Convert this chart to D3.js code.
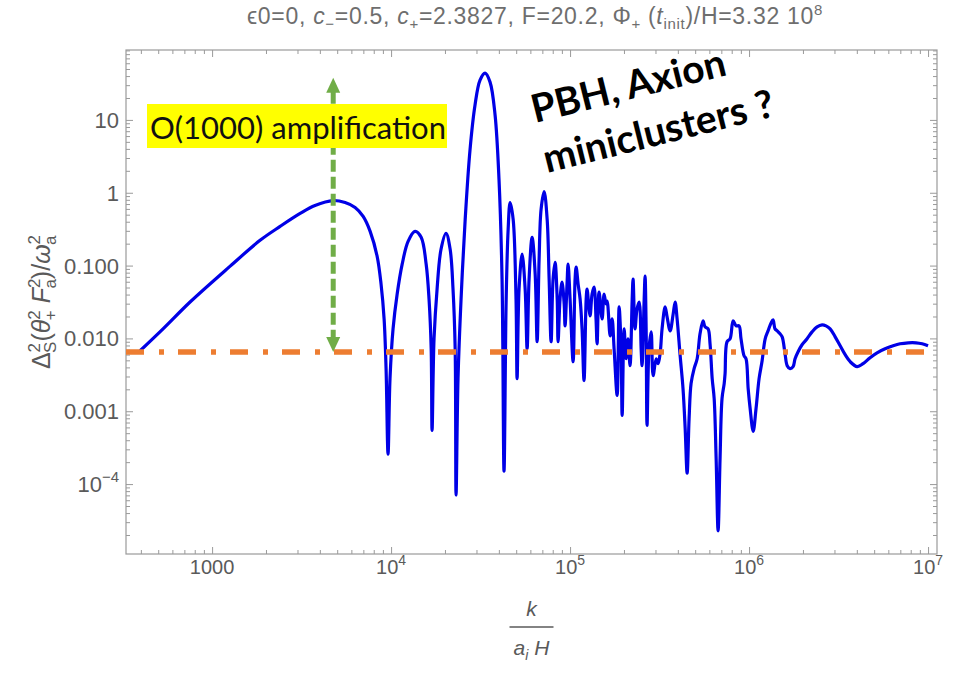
<!DOCTYPE html>
<html>
<head>
<meta charset="utf-8">
<script src="https://cdn.jsdelivr.net/npm/d3@7"></script>
<style>
  body { margin: 0; background: #fff; }
</style>
</head>
<body>
<div id="chart"></div>
<script>
// data: log10 of k/(a_i H) and log10 of the spectrum
const logK = [2.598,2.726,2.877,3.101,3.268,3.380,3.492,3.575,3.676,3.743,3.799,3.844,3.883,3.922,3.944,3.961,3.972,3.983,3.994,4.011,
  4.034,4.062,4.095,4.134,4.168,4.196,4.212,4.224,4.229,4.240,4.257,4.279,4.307,4.330,4.346,4.358,4.363,4.374,4.391,4.414,
  4.441,4.469,4.497,4.525,4.553,4.581,4.603,4.620,4.631,4.643,4.654,4.665,4.682,4.698,4.704,4.715,4.732,4.749,4.760,4.771,
  4.788,4.805,4.816,4.827,4.838,4.855,4.872,4.883,4.894,4.905,4.916,4.928,4.933,4.944,4.955,4.967,4.972,4.983,4.989,5.000,
  5.017,5.028,5.034,5.045,5.056,5.067,5.078,5.090,5.095,5.106,5.112,5.123,5.134,5.145,5.151,5.162,5.179,5.190,5.201,5.207,
  5.224,5.235,5.246,5.263,5.274,5.285,5.291,5.302,5.313,5.324,5.335,5.347,5.352,5.363,5.374,5.386,5.397,5.402,5.414,5.419,
  5.425,5.430,5.441,5.453,5.464,5.481,5.492,5.503,5.514,5.531,5.542,5.559,5.576,5.587,5.598,5.615,5.631,5.643,5.654,5.665,
  5.676,5.693,5.710,5.726,5.743,5.754,5.771,5.782,5.794,5.805,5.816,5.827,5.838,5.849,5.861,5.866,5.877,5.894,5.911,5.928,
  5.944,5.955,5.972,5.983,5.995,6.006,6.023,6.039,6.056,6.073,6.090,6.106,6.123,6.134,6.145,6.157,6.173,6.185,6.201,6.213,
  6.229,6.246,6.257,6.274,6.296,6.324,6.352,6.380,6.408,6.430,6.453,6.481,6.509,6.537,6.565,6.604,6.637,6.676,6.715,6.760,
  6.805,6.844,6.889,6.933,6.967,7.000];
const logS = [-2.169,-1.869,-1.500,-1.008,-0.653,-0.462,-0.284,-0.175,-0.107,-0.134,-0.202,-0.325,-0.530,-0.872,-1.254,-1.732,-2.415,-3.590,-2.552,-1.869,
  -1.391,-0.981,-0.667,-0.530,-0.612,-0.981,-1.459,-2.142,-3.262,-2.005,-1.322,-0.776,-0.557,-0.776,-1.322,-2.142,-4.150,-2.552,-1.459,-0.366,
  0.590,1.205,1.546,1.642,1.519,1.068,0.180,-1.186,-3.822,-1.459,-0.503,-0.134,-0.366,-1.459,-2.552,-1.322,-0.844,-1.322,-2.142,-1.186,
  -0.612,-1.117,-2.046,-0.913,-0.229,0.016,-0.366,-1.186,-2.046,-1.186,-0.954,-1.459,-2.046,-1.459,-1.227,-1.527,-1.828,-1.254,-0.981,-1.459,
  -2.320,-1.186,-1.022,-1.254,-1.459,-1.869,-2.579,-1.459,-1.322,-1.596,-1.691,-1.391,-1.295,-1.732,-2.074,-1.363,-1.732,-1.391,-1.527,-1.486,
  -1.964,-1.732,-2.142,-2.784,-1.568,-2.142,-3.057,-1.869,-2.279,-2.005,-2.374,-1.459,-1.186,-1.869,-1.596,-1.500,-2.142,-2.374,-1.459,-1.145,
  -1.869,-3.194,-2.142,-1.910,-2.511,-2.279,-2.347,-2.210,-1.869,-1.568,-1.705,-1.896,-1.664,-1.500,-1.732,-2.238,-2.688,-3.235,-3.850,-3.098,
  -2.620,-2.415,-2.279,-1.937,-1.760,-1.841,-1.869,-2.074,-2.552,-2.825,-3.645,-4.642,-3.645,-2.825,-2.620,-2.484,-2.046,-2.005,-1.760,-1.828,
  -1.828,-2.005,-2.238,-2.279,-2.688,-2.962,-3.276,-2.962,-2.552,-2.306,-2.005,-1.896,-1.787,-1.746,-1.869,-1.896,-1.937,-1.978,-2.210,-2.374,
  -2.415,-2.388,-2.279,-2.183,-2.087,-2.005,-1.910,-1.841,-1.814,-1.828,-1.869,-1.978,-2.101,-2.224,-2.320,-2.388,-2.347,-2.265,-2.197,-2.142,
  -2.101,-2.074,-2.060,-2.060,-2.074,-2.101];

// reference level (orange dash-dot) and the amplification arrow
const floorLevel = 0.0065;
const arrowK = 4750;
const arrowTop = 38;

// ticks
const xTicks = [1e3, 1e4, 1e5, 1e6, 1e7];
const yTicks = [10, 1, 0.1, 0.01, 0.001, 1e-4];
const yTickText = {10: '10', 1: '1', 0.1: '0.100', 0.01: '0.010', 0.001: '0.001'};

const data = logK.map((lk, i) => ({k: Math.pow(10, lk), s: Math.pow(10, logS[i])}));

const W = 957, H = 674;
const m = {left: 126, right: 20, top: 50, bottom: 120};
const sans = '"Liberation Sans", Arimo, Arial, sans-serif';

const svg = d3.select('#chart').append('svg')
  .attr('width', W).attr('height', H)
  .style('display', 'block')
  .attr('font-family', sans);

const x = d3.scaleLog().domain([Math.pow(10, 2.519), Math.pow(10, 7.05)]).range([m.left, W - m.right]);
const y = d3.scaleLog().domain([Math.pow(10, -4.96), Math.pow(10, 1.96)]).range([H - m.bottom, m.top]);

const grey = '#9a9a9a';
const labelGrey = '#5a5a5a';

// minor ticks: every 1..9 multiple that is not a power of ten
const notPow10 = t => Math.abs(Math.log10(t) - Math.round(Math.log10(t))) > 1e-6;
const xMinor = x.ticks().filter(notPow10);
const yMinor = y.ticks().filter(notPow10);

function tickAxis(axisFn, scale, vals, size) {
  return axisFn(scale).tickValues(vals).tickSizeInner(-size).tickSizeOuter(0).tickFormat('');
}

const axes = [
  [d3.axisBottom, x, `translate(0,${H - m.bottom})`],
  [d3.axisTop, x, `translate(0,${m.top})`],
  [d3.axisLeft, y, `translate(${m.left},0)`],
  [d3.axisRight, y, `translate(${W - m.right},0)`]
];
axes.forEach(([fn, sc, tr]) => {
  const major = sc === x ? xTicks : yTicks;
  const minor = sc === x ? xMinor : yMinor;
  [[major, 7], [minor, 4]].forEach(([vals, size]) => {
    const g = svg.append('g').attr('transform', tr).call(tickAxis(fn, sc, vals, size));
    g.select('.domain').remove();
    g.selectAll('line').attr('stroke', grey).attr('stroke-width', 1);
  });
});

// frame
svg.append('rect')
  .attr('x', m.left).attr('y', m.top)
  .attr('width', W - m.left - m.right).attr('height', H - m.top - m.bottom)
  .attr('fill', 'none').attr('stroke', grey).attr('stroke-width', 1.2);

// x tick labels
svg.append('g').selectAll('text').data(xTicks).join('text')
  .attr('x', d => x(d)).attr('y', H - m.bottom + 20)
  .attr('text-anchor', 'middle').attr('font-size', 20).attr('fill', labelGrey)
  .each(function (d) {
    const t = d3.select(this);
    const e = Math.round(Math.log10(d));
    if (e === 3) { t.text('1000'); return; }
    t.append('tspan').text('10');
    t.append('tspan').attr('dy', -9).attr('font-size', 14).text(e);
  });

// y tick labels
svg.append('g').selectAll('text').data(yTicks).join('text')
  .attr('x', m.left - 7).attr('y', d => y(d) + 8)
  .attr('text-anchor', 'end').attr('font-size', 22).attr('fill', labelGrey)
  .each(function (d) {
    const t = d3.select(this);
    if (yTickText[d]) { t.text(yTickText[d]); return; }
    t.append('tspan').text('10');
    t.append('tspan').attr('dy', -10).attr('font-size', 15).text('\u22124');
  });

// title
const title = svg.append('text')
  .attr('x', 535).attr('y', 24).attr('text-anchor', 'middle')
  .attr('font-size', 23).attr('letter-spacing', 0.7).attr('fill', '#6e6e6e');
[
  ['\u03F50=0, '],
  ['c', 0, 'italic'], ['\u2212', 5, null, 15], ['=0.5, ', -5],
  ['c', 0, 'italic'], ['+', 5, null, 15], ['=2.3827, F=20.2, \u03A6', -5],
  ['+', 5, null, 15], [' (', -5], ['t', 0, 'italic'], ['init', 5, null, 15],
  [')/H=3.32 10', -5], ['8', -9, null, 15]
].forEach(([s, dy, style, fs]) => {
  const ts = title.append('tspan').text(s);
  if (dy) ts.attr('dy', dy);
  if (style) ts.attr('font-style', style);
  if (fs) ts.attr('font-size', fs);
});

// y axis label
const yl = svg.append('text')
  .attr('transform', `translate(50,${(m.top + H - m.bottom) / 2}) rotate(-90)`)
  .attr('text-anchor', 'middle').attr('font-size', 25).attr('fill', labelGrey);
[
  ['\u0394'], ['2', -10, 0, null, 17], ['S', 16, -10, null, 17],
  ['(', -6], ['\u03B8', 0, 0, 'italic'], ['2', -10, 0, null, 17], ['+', 16, -10, null, 17],
  [' F', -6, 0, 'italic'], ['2', -10, 0, null, 17], ['a', 16, -10, null, 17],
  [')/', -6], ['\u03C9', 0, 0, 'italic'], ['2', -10, 0, null, 17], ['a', 16, -10, null, 17]
].forEach(([s, dy, dx, style, fs]) => {
  const ts = yl.append('tspan').text(s);
  if (dy) ts.attr('dy', dy);
  if (dx) ts.attr('dx', dx);
  if (style) ts.attr('font-style', style);
  if (fs) ts.attr('font-size', fs);
});

// x axis label: k / (a_i H)
const xc = (m.left + W - m.right) / 2;
svg.append('text').attr('x', xc).attr('y', 616).attr('text-anchor', 'middle')
  .attr('font-size', 21).attr('font-style', 'italic').attr('fill', labelGrey).text('k');
svg.append('line').attr('x1', xc - 22).attr('x2', xc + 22).attr('y1', 627).attr('y2', 627)
  .attr('stroke', labelGrey).attr('stroke-width', 1.3);
const den = svg.append('text').attr('x', xc).attr('y', 655).attr('text-anchor', 'middle')
  .attr('font-size', 21).attr('font-style', 'italic').attr('fill', labelGrey);
den.append('tspan').text('a');
den.append('tspan').attr('dy', 5).attr('font-size', 14).text('i');
den.append('tspan').attr('dy', -5).text(' H');

// clip
svg.append('clipPath').attr('id', 'plot-clip').append('rect')
  .attr('x', m.left).attr('y', m.top)
  .attr('width', W - m.left - m.right).attr('height', H - m.top - m.bottom);

// spectrum curve
svg.append('path').datum(data)
  .attr('clip-path', 'url(#plot-clip)')
  .attr('fill', 'none').attr('stroke', '#0000e6').attr('stroke-width', 3.2)
  .attr('stroke-linejoin', 'round')
  .attr('d', d3.line().curve(d3.curveCatmullRom.alpha(0.5)).x(d => x(d.k)).y(d => y(d.s)));

// reference dash-dot level
svg.append('path').datum(x.domain())
  .attr('fill', 'none').attr('stroke', '#ed7d31').attr('stroke-width', 5.5)
  .attr('stroke-dasharray', '18,15,5,14')
  .attr('d', d3.line().x(d => x(d)).y(() => y(floorLevel)));

// amplification arrow
const ax = x(arrowK), aTop = y(arrowTop), aBot = y(floorLevel);
const green = '#70ad47';
svg.append('line').attr('x1', ax).attr('x2', ax).attr('y1', aTop + 14).attr('y2', aBot - 14)
  .attr('stroke', green).attr('stroke-width', 5).attr('stroke-dasharray', '12,5');
svg.append('path').attr('fill', green)
  .attr('d', `M${ax},${aTop}L${ax - 7},${aTop + 15}L${ax + 7},${aTop + 15}Z`);
svg.append('path').attr('fill', green)
  .attr('d', `M${ax},${aBot}L${ax - 7},${aBot - 15}L${ax + 7},${aBot - 15}Z`);

// annotation box
svg.append('rect').attr('x', 147).attr('y', 104).attr('width', 300).attr('height', 44).attr('fill', '#ffff00');
svg.append('text').attr('x', 150).attr('y', 139)
  .attr('font-family', 'Lato, sans-serif').attr('font-size', 31).attr('fill', '#111')
  .text('O(1000) amplification');

// rotated note
[['PBH, Axion', 535, 123], ['miniclusters ?', 547, 173]].forEach(([s, tx, ty]) => {
  svg.append('text').attr('transform', `translate(${tx},${ty}) rotate(-14)`)
    .attr('font-family', 'Lato, sans-serif').attr('font-weight', 'bold')
    .attr('font-size', 39).attr('fill', '#000').text(s);
});
</script>
</body>
</html>
